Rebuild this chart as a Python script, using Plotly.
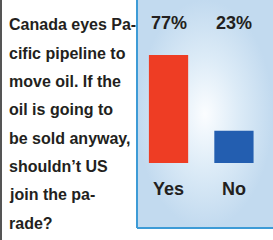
import plotly.graph_objects as go

# ---- data ----
categories = ["Yes", "No"]
values = [77, 23]
value_labels = ["77%", "23%"]
question_lines = [
    "Canada eyes Pa-",
    "cific pipeline to",
    "move oil. If the",
    "oil is going to",
    "be sold anyway,",
    "shouldn\u2019t US",
    "join the pa-",
    "rade?",
]

W, H = 273, 240
FONT = "Liberation Sans, Arial, sans-serif"
bar_colors = ["#ee3d24", "#235eb0"]

px_x = lambda p: p / W
px_y = lambda p: 1 - p / H

panel_x0 = px_x(137)
panel_y0 = px_y(228)

fig = go.Figure()

# panel background with radial gradient (on xaxis/yaxis)
fig.add_trace(go.Scatter(
    x=[0, 1, 1, 0, 0], y=[0, 0, 1, 1, 0], mode="lines",
    fill="toself", line=dict(width=0),
    fillgradient=dict(type="radial", colorscale=[[0, "#fbfdff"], [0.5, "#dcebf7"], [1, "#c2daef"]]),
    hoverinfo="skip", showlegend=False, xaxis="x", yaxis="y",
))

# bars (on xaxis2/yaxis2)
fig.add_trace(go.Bar(
    x=categories, y=values, marker=dict(color=bar_colors, line=dict(width=0)),
    width=0.6, showlegend=False, xaxis="x2", yaxis="y2", hoverinfo="skip",
))

annotations = []
for c, lab in zip(categories, value_labels):
    annotations.append(dict(x=c, y=px_y(23), xref="x2", yref="paper", text="<b>" + lab + "</b>",
                            showarrow=False, xanchor="center", yanchor="middle",
                            font=dict(family=FONT, size=18, color="#231f20")))
for c in categories:
    annotations.append(dict(x=c, y=px_y(189), xref="x2", yref="paper", text="<b>" + c + "</b>",
                            showarrow=False, xanchor="center", yanchor="middle",
                            font=dict(family=FONT, size=18, color="#231f20")))
for i, line in enumerate(question_lines):
    annotations.append(dict(x=px_x(7), y=px_y(25 + 28.3 * i), xref="paper", yref="paper",
                            text="<b>" + line + "</b>", showarrow=False,
                            xanchor="left", yanchor="middle",
                            font=dict(family=FONT, size=16, color="#231f20")))

fig.update_layout(
    width=W, height=H, margin=dict(l=0, r=0, t=0, b=0),
    paper_bgcolor="white", plot_bgcolor="rgba(0,0,0,0)",
    xaxis=dict(domain=[panel_x0, 1], range=[0, 1], visible=False, fixedrange=True),
    yaxis=dict(domain=[panel_y0, 1], range=[0, 1], visible=False, fixedrange=True),
    xaxis2=dict(domain=[panel_x0, 1], range=[-0.482, 1.597], visible=False, anchor="y2", fixedrange=True),
    yaxis2=dict(domain=[px_y(163), px_y(55)], range=[0, 77], visible=False, anchor="x2", fixedrange=True),
    annotations=annotations,
    shapes=[
        dict(type="line", xref="paper", yref="paper", x0=panel_x0, x1=panel_x0, y0=panel_y0, y1=1,
             line=dict(color="#3d9bd6", width=2)),
        dict(type="line", xref="paper", yref="paper", x0=panel_x0, x1=1, y0=panel_y0, y1=panel_y0,
             line=dict(color="#3d9bd6", width=2)),
        dict(type="line", xref="paper", yref="paper", x0=px_x(1), x1=px_x(1), y0=0, y1=1,
             line=dict(color="#555555", width=2)),
    ],
)

fig.write_html("out.html", config={"displayModeBar": False},
               post_script="document.body.style.margin='0';")
